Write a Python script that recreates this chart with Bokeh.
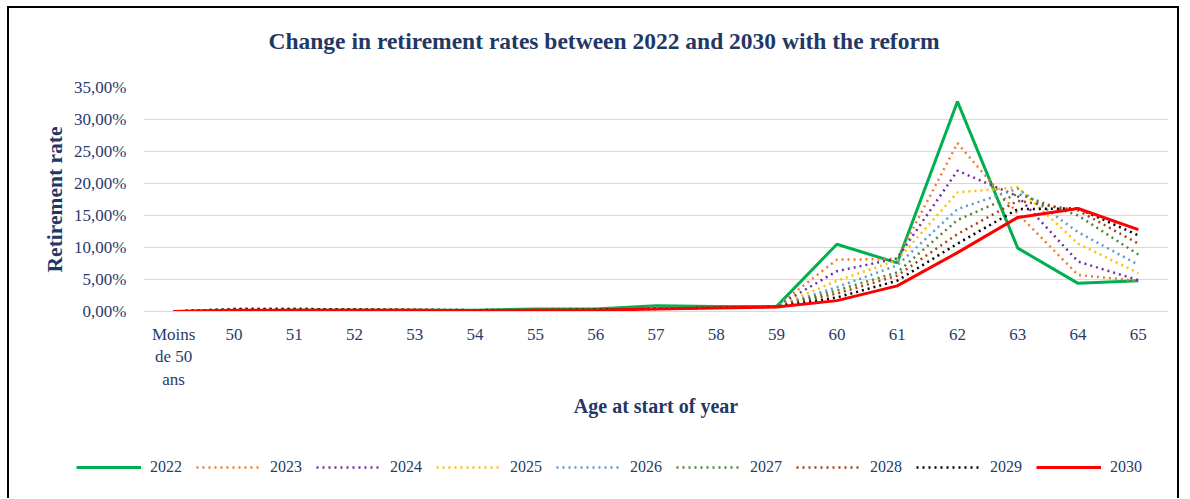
from bokeh.plotting import figure
from bokeh.layouts import column, row
from bokeh.models import (FactorRange, Range1d, FixedTicker, CustomJSTickFormatter,
                          Legend, LegendItem, Title)
from bokeh.embed import file_html
from bokeh.resources import INLINE

ages = ["Moins\nde 50\nans", "50", "51", "52", "53", "54", "55", "56", "57", "58",
        "59", "60", "61", "62", "63", "64", "65"]

y2022 = [0.0, 0.1, 0.2, 0.2, 0.2, 0.2, 0.4, 0.4, 0.9, 0.8, 0.8, 10.5, 7.6, 32.8, 9.9, 4.4, 4.8]
y2023 = [0.0, 0.4, 0.4, 0.3, 0.3, 0.2, 0.3, 0.3, 0.6, 0.7, 0.8, 8.1, 8.2, 26.3, 15.3, 5.7, 4.8]
y2024 = [0.0, 0.4, 0.4, 0.3, 0.3, 0.2, 0.3, 0.3, 0.6, 0.7, 0.8, 6.3, 8.3, 22.0, 18.0, 7.8, 4.9]
y2025 = [0.0, 0.4, 0.4, 0.3, 0.3, 0.2, 0.3, 0.3, 0.6, 0.7, 0.8, 4.8, 8.0, 18.6, 19.4, 10.6, 6.0]
y2026 = [0.0, 0.4, 0.4, 0.3, 0.3, 0.2, 0.3, 0.3, 0.6, 0.7, 0.8, 3.8, 7.2, 16.0, 19.2, 12.4, 7.3]
y2027 = [0.0, 0.4, 0.4, 0.3, 0.3, 0.2, 0.3, 0.3, 0.5, 0.7, 0.8, 3.3, 6.1, 14.3, 18.4, 15.0, 8.9]
y2028 = [0.0, 0.3, 0.3, 0.3, 0.2, 0.2, 0.3, 0.3, 0.5, 0.6, 0.8, 2.8, 5.6, 12.1, 17.3, 15.8, 10.6]
y2029 = [0.0, 0.3, 0.3, 0.3, 0.2, 0.2, 0.2, 0.3, 0.4, 0.6, 0.7, 2.2, 4.8, 10.6, 16.0, 16.1, 11.9]
y2030 = [0.0, 0.2, 0.2, 0.2, 0.2, 0.1, 0.2, 0.2, 0.4, 0.55, 0.7, 1.7, 4.0, 9.2, 14.7, 16.1, 12.8]

years = ["2022", "2023", "2024", "2025", "2026", "2027", "2028", "2029", "2030"]
series = [y2022, y2023, y2024, y2025, y2026, y2027, y2028, y2029, y2030]
colors = ["#00B050", "#ED7D31", "#7030A0", "#FFC000", "#5B9BD5", "#548235",
          "#9E480E", "#000000", "#FF0000"]
solid = [True, False, False, False, False, False, False, False, True]

y_ticks = [0, 5, 10, 15, 20, 25, 30, 35]

FONT = "Liberation Serif"
NAVY = "#1F3864"
TXT = "#2B3A6B"

p = figure(x_range=FactorRange(*ages), y_range=Range1d(0, 35),
           width=1168, height=440, output_backend="svg", toolbar_location=None,
           min_border_left=134, min_border_right=9, min_border_top=79,
           min_border_bottom=137, title=None)
p.outline_line_color = None
p.background_fill_color = "white"
p.border_fill_color = "white"

p.yaxis.ticker = FixedTicker(ticks=y_ticks)
p.yaxis.formatter = CustomJSTickFormatter(code="return tick.toFixed(2).replace('.', ',') + '%';")
p.xgrid.grid_line_color = None
p.ygrid.grid_line_color = "#D9D9D9"
p.ygrid.grid_line_width = 1
p.ygrid.ticker = FixedTicker(ticks=y_ticks)

for ax in (p.xaxis, p.yaxis):
    ax.major_tick_line_color = None
    ax.minor_tick_line_color = None
    ax.major_label_text_font = FONT
    ax.major_label_text_font_size = "17px"
    ax.major_label_text_color = TXT
    ax.axis_label_text_font = FONT
    ax.axis_label_text_font_style = "bold"
    ax.axis_label_text_color = NAVY
p.xaxis.axis_label_text_font_size = "20px"
p.yaxis.axis_label_text_font_size = "21.5px"
p.yaxis.axis_line_color = None
p.xaxis.axis_line_color = "#D9D9D9"
p.yaxis.major_label_standoff = 11
p.xaxis.major_label_standoff = 7
p.yaxis.axis_label = "Retirement rate"
p.xaxis.axis_label = "Age at start of year"
p.yaxis.axis_label_standoff = 4
p.xaxis.axis_label_standoff = 3

spacer = Title(text=" ", text_font_size="15px")
p.add_layout(spacer, "above")
title = Title(text="Change in retirement rates between 2022 and 2030 with the reform",
              text_font=FONT, text_font_style="bold", text_font_size="23.5px",
              text_color=NAVY, align="left", offset=125)
p.add_layout(title, "above")

# legend strip
pl = figure(x_range=FactorRange(*ages), y_range=Range1d(1000, 1001), width=1168, height=50,
            output_backend="svg", toolbar_location=None, min_border=0,
            x_axis_location=None, y_axis_location=None, title=None)
pl.grid.visible = False
pl.outline_line_color = None
pl.background_fill_color = "white"
pl.border_fill_color = "white"

items = []
for yr, ys, c, s in zip(years, series, colors, solid):
    if s:
        kw = dict(line_color=c, line_width=3)
    else:
        kw = dict(line_color=c, line_width=2.5, line_dash="2 4")
    p.line(ages, ys, **kw)
    r = pl.line(ages, ys, **kw)
    items.append(LegendItem(label=yr, renderers=[r]))

legend = Legend(items=items, orientation="horizontal", location=(67, 22),
                glyph_width=65, glyph_height=12, label_standoff=9, spacing=14,
                padding=0, margin=0, border_line_color=None,
                background_fill_alpha=0,
                label_text_font=FONT, label_text_font_size="16px",
                label_text_color=TXT)
pl.add_layout(legend, "center")

layout = column(p, row(pl), spacing=0,
                styles={"border-left": "2px solid #000", "border-top": "2px solid #000",
                        "border-right": "2px solid #000", "margin-left": "7px",
                        "margin-top": "6px"})

open("out.html", "w").write(file_html(layout, INLINE))
